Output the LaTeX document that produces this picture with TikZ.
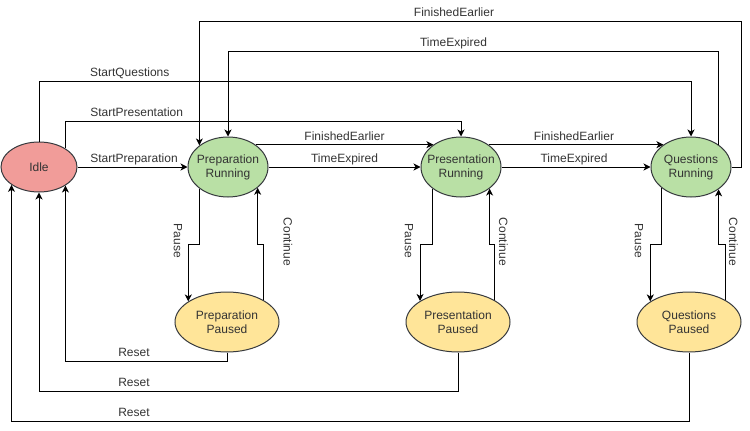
\documentclass[tikz,border=0pt]{standalone}
\usepackage{fontspec}
\setmainfont{Liberation Sans}
\usetikzlibrary{arrows.meta,shapes.geometric}
\definecolor{idlef}{HTML}{F19C99}
\definecolor{runf}{HTML}{B9E0A5}
\definecolor{pausef}{HTML}{FFE599}
\definecolor{strk}{HTML}{36393D}
\definecolor{txt}{HTML}{333333}
\begin{document}
\begin{tikzpicture}[x=1pt,y=-1pt,
  st/.style={ellipse, draw=strk, line width=1pt, inner xsep=-6pt, inner ysep=0pt,
    minimum width=80pt, minimum height=60pt, align=center,
    font=\fontsize{12}{14}\selectfont, text=txt},
  idlest/.style={st, fill=idlef, minimum width=76pt, minimum height=50pt},
  runst/.style={st, fill=runf},
  pausest/.style={st, fill=pausef, minimum width=104pt},
  arr/.style={draw=black, line width=1pt, -{Stealth[length=7pt,width=7pt,inset=2pt]}},
  lab/.style={font=\fontsize{12}{14}\selectfont, text=txt, inner sep=0pt, anchor=base},
  vlab/.style={font=\fontsize{12}{14}\selectfont, text=txt, inner sep=0pt, anchor=center, rotate=-90}]
\useasboundingbox (0,0) rectangle (750,431);

% lanes
\coordinate (yFE) at (0,21);
\coordinate (yTE) at (0,51);
\coordinate (ySQ) at (0,81);
\coordinate (ySP) at (0,121);
\coordinate (jy) at (0,244);
\coordinate (yR1) at (0,361);
\coordinate (yR2) at (0,391);
\coordinate (yR3) at (0,421);
\coordinate (feR) at (741,21);

% states
\node[idlest] (idle) at (39,167) {Idle};
\node[runst] (prr) at (228,167) {Preparation\\Running};
\node[runst] (psr) at (461,167) {Presentation\\Running};
\node[runst] (qr) at (691,167) {Questions\\Running};
\node[pausest] (prp) at (227,322) {Preparation\\Paused};
\node[pausest] (psp) at (458,322) {Presentation\\Paused};
\node[pausest] (qp) at (689,322) {Questions\\Paused};

% start transitions
\draw[arr] (idle.east) -- (prr.west)
  node[lab] (lsprep) at (134,162.5) {StartPreparation};
\draw[arr] (idle.35) |- (psr.north |- ySP) -- (psr.north)
  node[lab] (lspres) at (136.7,116.5) {StartPresentation};
\draw[arr] (idle.north) |- (qr.north |- ySQ) -- (qr.north)
  node[lab] (lsq) at (129.7,76.5) {StartQuestions};

% running to running
\draw[arr] (prr.39) -- (psr.141)
  node[lab] (lfe1) at (344.5,140.5) {FinishedEarlier};
\draw[arr] (prr.east) -- (psr.west)
  node[lab] (lte1) at (344.5,162.5) {TimeExpired};
\draw[arr] (psr.39) -- (qr.141)
  node[lab] (lfe2) at (574,140.5) {FinishedEarlier};
\draw[arr] (psr.east) -- (qr.west)
  node[lab] (lte2) at (574,162.5) {TimeExpired};

% loops back to preparation
\draw[arr] (qr.east) -| (feR) -| (prr.143)
  node[lab] (lfe3) at (454,16.5) {FinishedEarlier};
\draw[arr] (qr.39) |- (prr.north |- yTE) -- (prr.north)
  node[lab] (lte3) at (453.5,46.5) {TimeExpired};

% pause / continue
\draw[arr] (prr.217) -- (prr.217 |- jy) -| (prp.152)
  node[vlab] (lp1) at (178,241) {Pause};
\draw[arr] (prp.31) -- (prp.31 |- jy) -| (prr.325)
  node[vlab] (lc1) at (288,242) {Continue};
\draw[arr] (psr.217) -- (psr.217 |- jy) -| (psp.151)
  node[vlab] (lp2) at (409,241) {Pause};
\draw[arr] (psp.31) -- (psp.31 |- jy) -| (psr.323)
  node[vlab] (lc2) at (503.5,242) {Continue};
\draw[arr] (qr.215) -- (qr.215 |- jy) -| (qp.152)
  node[vlab] (lp3) at (639,241) {Pause};
\draw[arr] (qp.31) -- (qp.31 |- jy) -| (qr.321)
  node[vlab] (lc3) at (733.5,242) {Continue};

% resets
\draw[arr] (prp.south) |- (idle.325 |- yR1) -- (idle.325)
  node[lab] (lr1) at (134,356.5) {Reset};
\draw[arr] (psp.south) |- (idle.south |- yR2) -- (idle.south)
  node[lab] (lr2) at (134,386.5) {Reset};
\draw[arr] (qp.south) |- (idle.213 |- yR3) -- (idle.213)
  node[lab] (lr3) at (134,416.5) {Reset};
\end{tikzpicture}
\end{document}
